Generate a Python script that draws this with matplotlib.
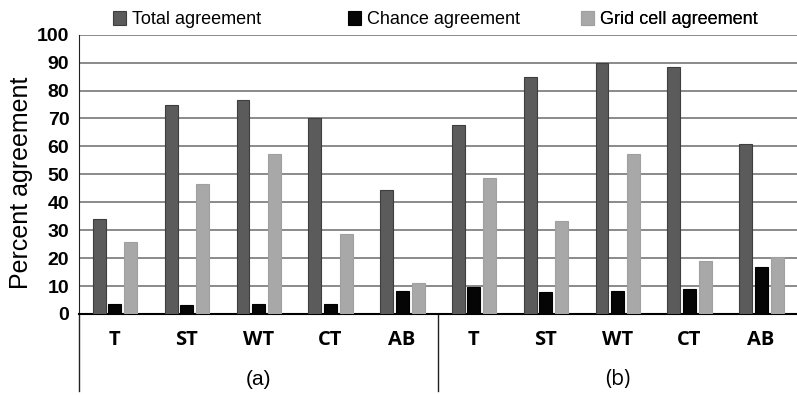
import matplotlib.pyplot as plt
import matplotlib.transforms as mtrans
import numpy as np

# agreement per vegetation class, (a) and (b) panels side by side
classes = ["T", "ST", "WT", "CT", "AB"]
panels = ["(a)", "(b)"]

total_a = [34, 75, 76.5, 70, 44.5]
chance_a = [3.6, 3.2, 3.6, 3.6, 8.3]
grid_a = [25.8, 46.7, 57.3, 28.8, 11.2]

total_b = [67.5, 85, 90, 88.4, 60.7]
chance_b = [9.8, 7.9, 8.3, 9.1, 16.7]
grid_b = [48.7, 33.4, 57.3, 18.9, 20.5]

series = ["Total agreement", "Chance agreement", "Grid cell agreement"]
colors = ["#5b5b5b", "#050505", "#a8a8a8"]
edges = ["#3e3e3e", "#000000", "#a0a0a0"]

values = [total_a + total_b, chance_a + chance_b, grid_a + grid_b]
labels = classes + classes

fig = plt.figure(figsize=(7.97, 3.95), dpi=100)
ax = fig.add_axes([79 / 797, 1 - 314 / 395, 1 - 79 / 797, (314 - 34.7) / 395])

x = np.arange(len(labels))
offsets = [-0.216, 0.0, 0.223]
bars = []
for vals, off, c, ec, name in zip(values, offsets, colors, edges, series):
    b = ax.bar(x + off, vals, width=0.18, color=c, edgecolor=ec, linewidth=0.8,
               label=name, zorder=3)
    bars.append(b)

ax.set_xlim(-0.5, len(labels) - 0.5)
ax.set_ylim(0, 100)
ax.set_yticks(np.arange(0, 101, 10))
ax.yaxis.grid(True, color="#8a8a8a", linewidth=1.4, zorder=0)
ax.tick_params(axis="y", length=0, pad=7, labelsize=14)
for t in ax.get_yticklabels():
    t.set_fontweight("bold")
    t.set_family("Liberation Sans")
ax.set_xticks([])

for s in ["top", "right"]:
    ax.spines[s].set_visible(False)
ax.spines["bottom"].set_linewidth(1.5)
ax.spines["left"].set_color("#222222")

# class names and panel letters under the axis
trans = mtrans.blended_transform_factory(ax.transData, ax.transAxes)
for i, lab in enumerate(labels):
    ax.text(i, -0.093, lab, transform=trans, ha="center", va="center",
            fontsize=14.5, fontweight="bold", family="Open Sans")
ax.text(2, -0.236, panels[0], transform=trans, ha="center", va="center",
        fontsize=15, family="Liberation Sans")
ax.text(7, -0.236, panels[1], transform=trans, ha="center", va="center",
        fontsize=15, family="Open Sans")

# group separators running down past the axis
for xs in [-0.5, 4.5]:
    ax.plot([xs, xs], [0, -0.276], transform=trans, color="#222222",
            linewidth=1.0, clip_on=False)

# one legend per series so the entries sit on an even spacing
for b, name, xpos in zip(bars, series, [0.0474, 0.3747, 0.699]):
    leg = ax.legend([b], [name], loc="center left", bbox_to_anchor=(xpos, 1.053),
                    frameon=False, borderpad=0, borderaxespad=0,
                    handlelength=0.7, handleheight=0.8, handletextpad=0.35,
                    prop={"family": "Liberation Sans", "size": 13})
    ax.add_artist(leg)

fig.text(21 / 797, 0.538, "Percent agreement", rotation=90, ha="center",
         va="center", fontsize=18, family="Liberation Sans")

fig.savefig("out.png", dpi=100)
